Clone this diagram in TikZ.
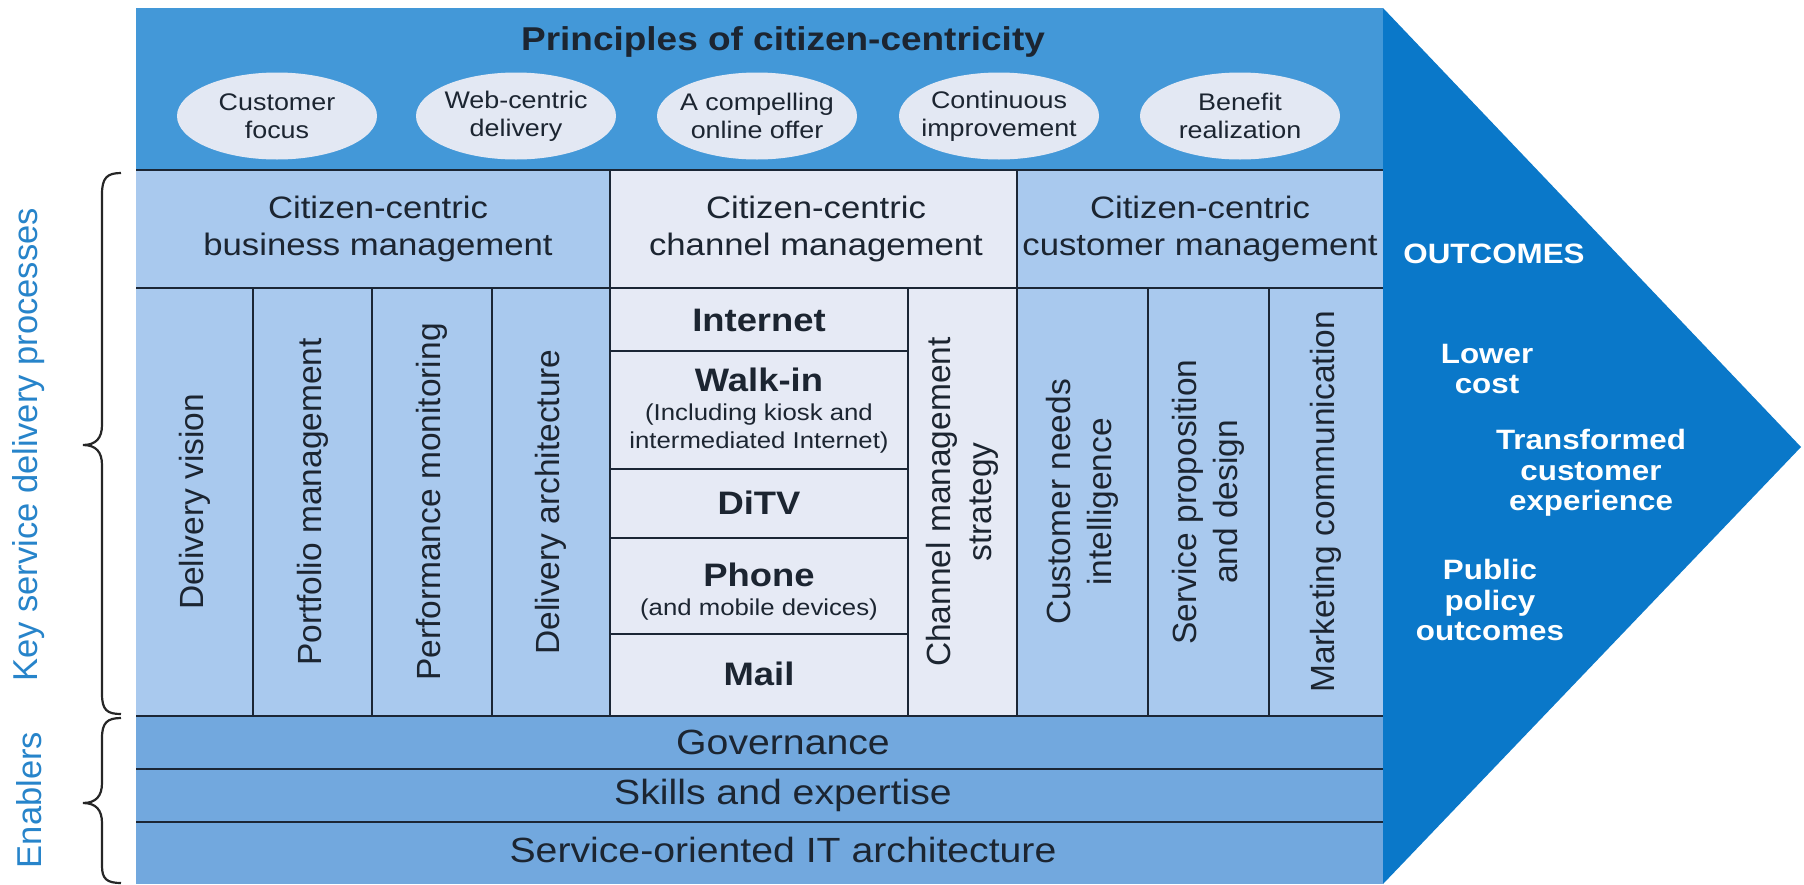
\documentclass[tikz,border=0pt]{standalone}
\usepackage{fontspec}
\setmainfont{Liberation Sans}[FakeStretch=1.12]
\newfontfamily\rotfont{Liberation Sans}
\usetikzlibrary{shapes.geometric}
\definecolor{princ}{HTML}{4398D8}
\definecolor{ell}{HTML}{E3E8F3}
\definecolor{lblue}{HTML}{A9C9EE}
\definecolor{chan}{HTML}{E6EAF5}
\definecolor{enab}{HTML}{72A8DE}
\definecolor{arrowc}{HTML}{0A78C9}
\definecolor{ink}{HTML}{1C2531}
\definecolor{rulec}{HTML}{1B2635}
\definecolor{side}{HTML}{2784CA}
\begin{document}
\begin{tikzpicture}[x=1pt,y=-1pt,
  gridline/.style={draw=rulec, line width=2.6pt},
  brc/.style={draw=black!85, line width=2.2pt},
  ttl/.style={text=ink, inner sep=0, font=\bfseries\fontsize{33}{38}\selectfont},
  pill/.style={ellipse, fill=ell, minimum width=200pt, minimum height=87pt, inner sep=0},
  pilltext/.style={text=ink, align=center, inner sep=0, font=\fontsize{24}{28}\selectfont},
  head/.style={text=ink, align=center, inner sep=0, font=\fontsize{31}{37}\selectfont},
  vtext/.style={rotate=90, text=ink, align=center, inner sep=0, font=\rotfont\fontsize{33.5}{41}\selectfont},
  chname/.style={text=ink, align=center, inner sep=0, font=\bfseries\fontsize{32.5}{36}\selectfont},
  chsub/.style={text=ink, align=center, inner sep=0, font=\fontsize{23}{28}\selectfont},
  enabtext/.style={text=ink, align=center, inner sep=0, font=\fontsize{35}{40}\selectfont},
  outc/.style={text=white, align=center, inner sep=0, font=\bfseries\fontsize{28}{30.5}\selectfont},
  sidelabel/.style={rotate=90, text=side, inner sep=0, font=\rotfont\fontsize{34.5}{40}\selectfont}
]
\useasboundingbox (0,0) rectangle (1804,884);
% fills
\fill[princ] (136,8) rectangle (1383,170);
\fill[lblue] (136,170) rectangle (610,716);
\fill[chan] (610,170) rectangle (1017,716);
\fill[lblue] (1017,170) rectangle (1383,716);
\fill[enab] (136,716) rectangle (1383,884);
\fill[arrowc] (1383,8) -- (1801,447) -- (1383,884) -- cycle;
% grid lines
\foreach \yy in {170,288,716,769,822} \draw[gridline] (136,\yy) -- (1383,\yy);
\draw[gridline] (610,170) -- (610,716);
\draw[gridline] (1017,170) -- (1017,716);
\foreach \xx in {253,372,492,908,1148,1269} \draw[gridline] (\xx,288) -- (\xx,716);
\foreach \yy in {351,469,538,634} \draw[gridline] (610,\yy) -- (908,\yy);
% principles
\node[ttl] (title) at (783,42) {Principles of citizen-centricity};
\node[pill] (e1) at (277,116) {};
\node[pill] (e2) at (516,116) {};
\node[pill] (e3) at (757,116) {};
\node[pill] (e4) at (999,116) {};
\node[pill] (e5) at (1240,116) {};
\node[pilltext] (p1) at (e1) {Customer\\focus};
\node[pilltext] (p2) at (e2) {Web-centric\\delivery};
\node[pilltext] (p3) at (e3) {A compelling\\online offer};
\node[pilltext] (p4) at (e4) {Continuous\\improvement};
\node[pilltext] (p5) at (e5) {Benefit\\realization};
% headers
\node[head] (hb) at (378,229) {Citizen-centric\\business management};
\node[head] (hc) at (816,229) {Citizen-centric\\channel management};
\node[head] (hu) at (1200,229) {Citizen-centric\\customer management};
% business columns
\node[vtext] (b1) at (194.5,502) {Delivery vision};
\node[vtext] (b2) at (312.5,502) {Portfolio management};
\node[vtext] (b3) at (432,502) {Performance monitoring};
\node[vtext] (b4) at (551,502) {Delivery architecture};
% channel
\node[chname] (c1) at (759,320) {Internet};
\node[chname] (c2) at (759,380) {Walk-in};
\node[chsub] (c2s) at (759,429) {(Including kiosk and\\intermediated Internet)};
\node[chname] (c3) at (759,503) {DiTV};
\node[chname] (c4) at (759,575) {Phone};
\node[chsub] (c4s) at (759,610) {(and mobile devices)};
\node[chname] (c5) at (759,674) {Mail};
\node[vtext] (cs) at (962.5,502) {Channel management\\strategy};
% customer columns
\node[vtext] (u1) at (1082.5,502) {Customer needs\\intelligence};
\node[vtext] (u2) at (1208.5,502) {Service proposition\\and design};
\node[vtext] (u3) at (1326,502) {Marketing communication};
% enablers
\node[enabtext] (g1) at (783,742) {Governance};
\node[enabtext] (g2) at (783,795) {Skills and expertise};
\node[enabtext] (g3) at (783,850) {Service-oriented IT architecture};
% outcomes
\node[outc] (o0) at (1494,254) {OUTCOMES};
\node[outc] (o1) at (1487,369) {Lower\\cost};
\node[outc] (o2) at (1591,473) {Transformed\\customer\\experience};
\node[outc] (o3) at (1490,600) {Public\\policy\\outcomes};
% side labels
\node[sidelabel] (s1) at (29,445) {Key service delivery processes};
\node[sidelabel] (s2) at (29,800) {Enablers};
% braces
\draw[brc] (121,173) .. controls (107,173) and (102,178) .. (102,194) -- (102,425)
  .. controls (102,438) and (96,445) .. (83,445) .. controls (96,445) and (102,452) .. (102,465)
  -- (102,694) .. controls (102,710) and (107,714) .. (121,714);
\draw[brc] (121,718) .. controls (107,718) and (102,723) .. (102,738) -- (102,783)
  .. controls (102,796) and (96,803) .. (83,803) .. controls (96,803) and (102,810) .. (102,823)
  -- (102,866) .. controls (102,879) and (107,883) .. (121,883);
\end{tikzpicture}
\end{document}
